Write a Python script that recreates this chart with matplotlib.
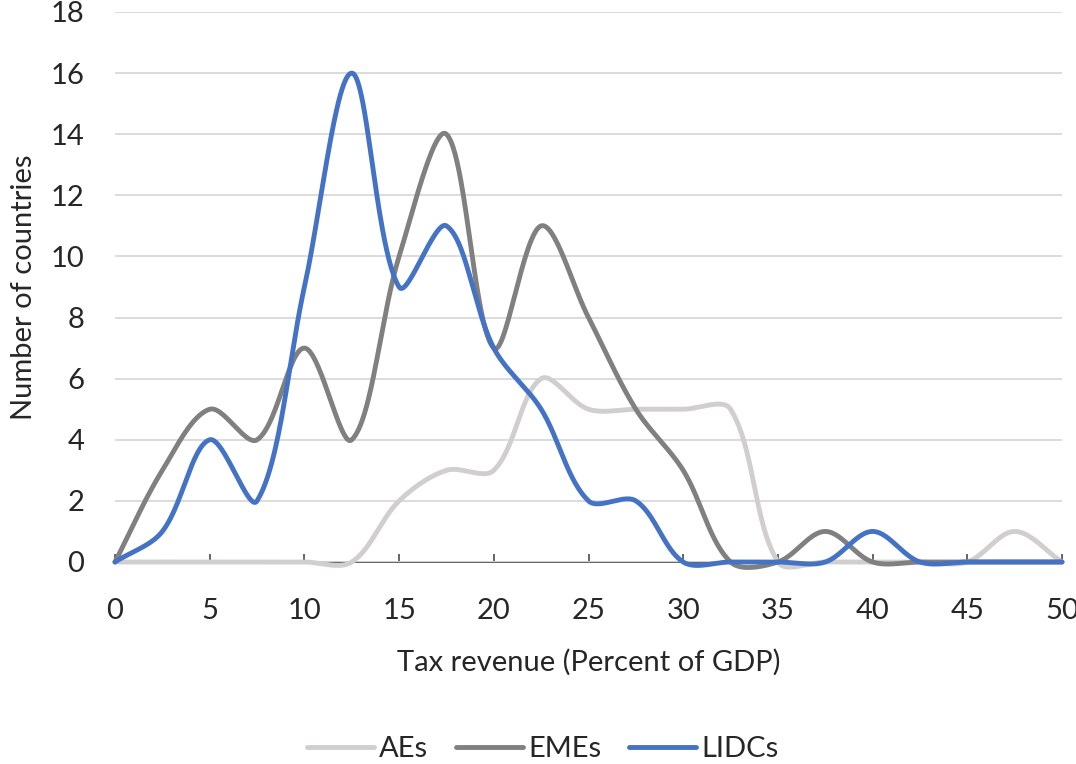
import numpy as np
import matplotlib
matplotlib.use("Agg")
import matplotlib.pyplot as plt

x_vals = [0, 2.5, 5, 7.5, 10, 12.5, 15, 17.5, 20, 22.5, 25, 27.5, 30, 32.5, 35, 37.5, 40, 42.5, 45, 47.5, 50]
aes   = [0, 0, 0, 0, 0, 0, 2, 3, 3, 6, 5, 5, 5, 5, 0, 0, 0, 0, 0, 1, 0]
emes  = [0, 3, 5, 4, 7, 4, 10, 14, 7, 11, 8, 5, 3, 0, 0, 1, 0, 0, 0, 0, 0]
lidcs = [0, 1, 4, 2, 9, 16, 9, 11, 7, 5, 2, 2, 0, 0, 0, 0, 1, 0, 0, 0, 0]

x_ticks = [0, 5, 10, 15, 20, 25, 30, 35, 40, 45, 50]
y_ticks = [0, 2, 4, 6, 8, 10, 12, 14, 16, 18]
series_names = ["AEs", "EMEs", "LIDCs"]
colors = ["#d0cece", "#808080", "#4472c4"]

# pixel scale per data unit (used only to weight the smoothing like Excel)
SX, SY = 18.94, 30.6


def smooth(xs, ys, n=50):
    """Excel-like smoothed line: cubic Bezier, chord-length weighted tangents."""
    pts = np.column_stack([np.asarray(xs, float), np.asarray(ys, float)])
    scr = pts * np.array([SX, SY])
    m = len(pts)
    out = []
    for i in range(m - 1):
        i0 = max(i - 1, 0)
        i3 = min(i + 2, m - 1)
        p0, p1, p2, p3 = pts[i0], pts[i], pts[i + 1], pts[i3]
        d01 = np.linalg.norm(scr[i] - scr[i0])
        d12 = np.linalg.norm(scr[i + 1] - scr[i])
        d23 = np.linalg.norm(scr[i3] - scr[i + 1])
        f1 = d12 / (d01 + d12) if d01 + d12 > 0 else 0.5
        f2 = d12 / (d12 + d23) if d12 + d23 > 0 else 0.5
        c1 = p1 + (p2 - p0) * f1 / 3.0
        c2 = p2 - (p3 - p1) * f2 / 3.0
        t = np.linspace(0, 1, n, endpoint=(i == m - 2))[:, None]
        seg = ((1 - t) ** 3) * p1 + 3 * ((1 - t) ** 2) * t * c1 + 3 * (1 - t) * t ** 2 * c2 + t ** 3 * p2
        out.append(seg)
    arr = np.vstack(out)
    return arr[:, 0], arr[:, 1]


plt.rcParams['font.family'] = ['Lato', 'DejaVu Sans']
fig = plt.figure(figsize=(10.76, 7.64), dpi=100)
ax = fig.add_axes([115 / 1076, 1 - 562 / 764, (1062 - 115) / 1076, (562 - 12) / 764])

text_color = "#262626"
fs = 21
lw = 3.5
for name, ys, c in zip(series_names, [aes, emes, lidcs], colors):
    sx, sy = smooth(x_vals, ys)
    ax.plot(sx, sy, color=c, lw=lw, label=name, solid_capstyle='round',
            solid_joinstyle='round', clip_on=False)

ax.set_xlim(0, 50)
ax.set_ylim(0, 18)
ax.set_xticks(x_ticks)
ax.set_yticks(y_ticks)
ax.grid(axis='y', color='#d9d9d9', lw=1.3)
ax.set_axisbelow(True)
for s in ['top', 'right', 'left']:
    ax.spines[s].set_visible(False)
ax.spines['bottom'].set_color('#595959')
ax.spines['bottom'].set_linewidth(1.3)
ax.spines['bottom'].set_zorder(0.5)
ax.tick_params(axis='x', direction='in', length=6, width=1.3, color='#595959',
               labelsize=fs, labelcolor=text_color, pad=26)
ax.tick_params(axis='y', length=0, labelsize=fs, labelcolor=text_color, pad=22)

ax.set_xlabel("Tax revenue (Percent of GDP)", fontsize=fs, color=text_color, labelpad=18)
ax.set_ylabel("Number of countries", fontsize=fs, color=text_color, labelpad=10)

leg = fig.legend(loc='center', bbox_to_anchor=(543 / 1076, 1 - 749 / 764), ncol=3, frameon=False,
                 fontsize=fs, handlelength=2.3, handletextpad=0.18, columnspacing=0.95)
for t in leg.get_texts():
    t.set_color(text_color)

fig.savefig("out.png", dpi=100)
